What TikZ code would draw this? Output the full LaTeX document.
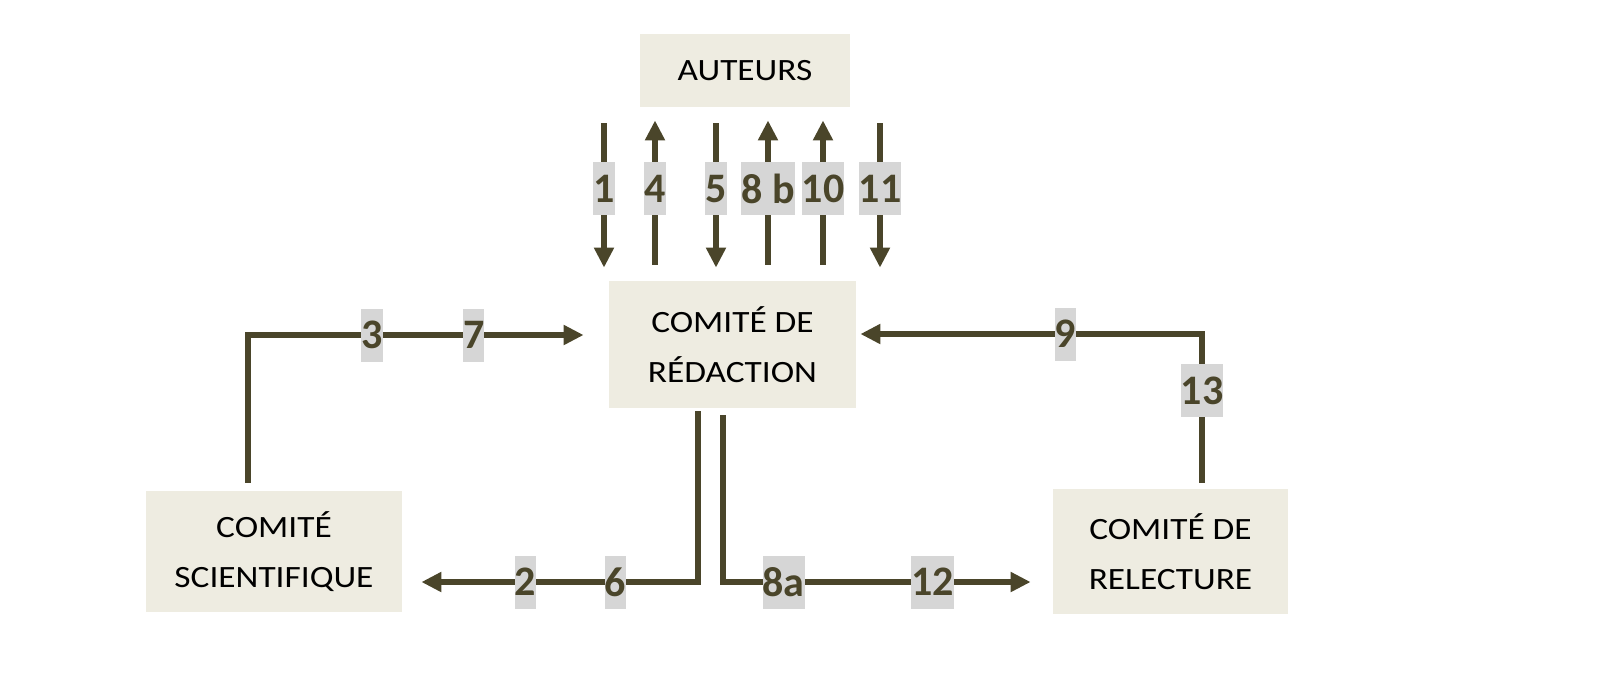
\documentclass[tikz,border=0pt]{standalone}
\usepackage{fontspec}
\setmainfont{Carlito}[FakeStretch=1.14]
\newfontfamily\numfont{Carlito}
\usetikzlibrary{arrows.meta}
\definecolor{boxfill}{HTML}{EEECE1}
\definecolor{flowcol}{HTML}{4A452A}
\definecolor{numgray}{HTML}{D6D6D6}
\begin{document}
\begin{tikzpicture}[x=0.5pt,y=-0.5pt,line join=miter,>={Triangle[width=9.5pt,length=10pt]}]
	\tikzset{comite/.style={fill=boxfill,align=center,inner sep=0pt,font=\fontsize{15.5}{25}\selectfont},
		flow/.style={draw=flowcol,line width=3pt},
		num/.style={fill=numgray,text=flowcol,inner xsep=0pt,inner ysep=0pt,minimum height=26.5pt,font=\numfont\fontsize{21}{21}\selectfont\bfseries}}
	\useasboundingbox (0,0) rectangle (1600,677);
	% boxes
	\node[comite,minimum width=105pt,minimum height=36.5pt] (auteurs) at (745,70.5) {AUTEURS};
	\node[comite,minimum width=123.5pt,minimum height=63.5pt] (redaction) at (732.5,344.5) {COMITÉ DE\\RÉDACTION};
	\node[comite,minimum width=128pt,minimum height=60.5pt] (scientifique) at (274,551.5) {COMITÉ\\SCIENTIFIQUE};
	\node[comite,minimum width=117.5pt,minimum height=62.5pt] (relecture) at (1170.5,551.5) {COMITÉ DE\\RELECTURE};
	% auteurs <-> redaction
	\foreach \x/\txt in {604/1,716/5,880/11}
	\draw[flow,->,shorten <=8pt,shorten >=6.5pt] (auteurs.south -| \x,0) -- node[num,pos=.47] {\txt} (redaction.north -| \x,0);
	\foreach \x/\txt in {655/4,768/8 b,823/10}
	\draw[flow,->,shorten <=8pt,shorten >=6.5pt] (redaction.north -| \x,0) -- node[num,pos=.53] {\txt} (auteurs.south -| \x,0);
	% comites
	\draw[flow,->,shorten <=4pt,shorten >=12.5pt] ([xshift=-13pt]scientifique.north) |- node[num,pos=.672] (n3) {3} node[num,pos=.813] (n7) {7} ([yshift=4.75pt]redaction.west);
	\draw[flow,->,shorten <=3pt,shorten >=2pt] ([xshift=15.75pt]relecture.north) |- node[num,pos=.316] (n13) {13} node[num,pos=.698] (n9) {9} ([yshift=5.25pt]redaction.east);
	\draw[flow,->,shorten <=1.5pt,shorten >=9.5pt] ([xshift=-17.25pt]redaction.south) |- node[num,pos=.64] (n6) {6} node[num,pos=.792] (n2) {2} ([yshift=-15.25pt]scientifique.east);
	\draw[flow,->,shorten <=3.5pt,shorten >=11pt] ([xshift=-4.75pt]redaction.south) |- node[num,pos=.592] (n8a) {8a} node[num,pos=.818] (n12) {12} ([yshift=-15.25pt]relecture.west);
\end{tikzpicture}
\end{document}
